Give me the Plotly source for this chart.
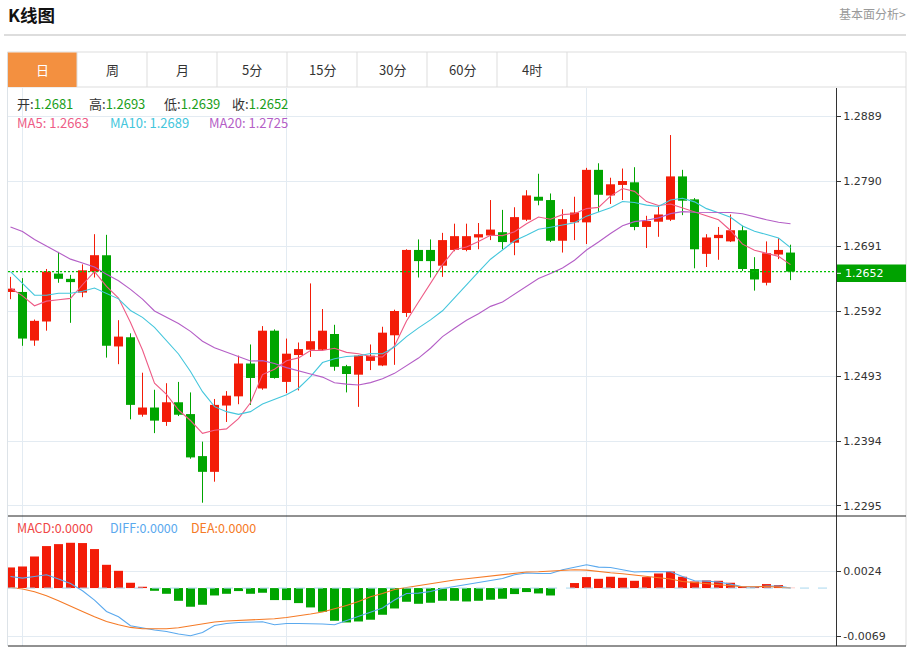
import plotly.graph_objects as go
import pandas as pd

W, H = 911, 652
CJK = "Noto Sans CJK SC"
NUMF = "DejaVu Sans"

# ---------------- data ----------------
opens = [1.2621, 1.2621, 1.2547, 1.2576, 1.2649, 1.2641, 1.2620, 1.2652, 1.2677, 1.2538,
         1.2552, 1.2434, 1.2445, 1.2423, 1.2453, 1.2435, 1.2371, 1.2347, 1.2448, 1.2462,
         1.2512, 1.2474, 1.2562, 1.2484, 1.2525, 1.2533, 1.2533, 1.2557, 1.2508, 1.2495,
         1.2516, 1.2509, 1.2555, 1.2589, 1.2685, 1.2685, 1.2661, 1.2685, 1.2685, 1.2704,
         1.2707, 1.2712, 1.2696, 1.2731, 1.2766, 1.2761, 1.2699, 1.2727, 1.2727, 1.2807,
         1.2768, 1.2784, 1.2788, 1.2720, 1.2728, 1.2731, 1.2797, 1.2762, 1.2679, 1.2703,
         1.2698, 1.2715, 1.2656, 1.2635, 1.2678, 1.2681]
highs = [1.2644, 1.2642, 1.2579, 1.2656, 1.2682, 1.2647, 1.2663, 1.2709, 1.2708, 1.2578,
         1.2558, 1.2498, 1.2472, 1.2482, 1.2484, 1.2468, 1.2393, 1.2458, 1.2470, 1.2524,
         1.2541, 1.2569, 1.2564, 1.2550, 1.2544, 1.2634, 1.2595, 1.2571, 1.2510, 1.2525,
         1.2541, 1.2568, 1.2594, 1.2686, 1.2701, 1.2701, 1.2711, 1.2725, 1.2725, 1.2726,
         1.2761, 1.2746, 1.2750, 1.2776, 1.2801, 1.2771, 1.2747, 1.2766, 1.2810, 1.2817,
         1.2795, 1.2809, 1.2811, 1.2737, 1.2751, 1.2860, 1.2807, 1.2764, 1.2709, 1.2720,
         1.2739, 1.2722, 1.2674, 1.2698, 1.2703, 1.2693]
lows = [1.2610, 1.2539, 1.2539, 1.2562, 1.2635, 1.2574, 1.2613, 1.2643, 1.2521, 1.2511,
        1.2427, 1.2431, 1.2406, 1.2417, 1.2432, 1.2367, 1.2300, 1.2332, 1.2423, 1.2450,
        1.2449, 1.2472, 1.2489, 1.2467, 1.2471, 1.2522, 1.2532, 1.2501, 1.2468, 1.2446,
        1.2502, 1.2508, 1.2510, 1.2583, 1.2643, 1.2643, 1.2644, 1.2683, 1.2683, 1.2686,
        1.2700, 1.2686, 1.2677, 1.2729, 1.2753, 1.2697, 1.2681, 1.2700, 1.2694, 1.2743,
        1.2755, 1.2761, 1.2715, 1.2688, 1.2705, 1.2729, 1.2738, 1.2657, 1.2659, 1.2670,
        1.2697, 1.2653, 1.2623, 1.2631, 1.2671, 1.2639]
closes = [1.2626, 1.2550, 1.2577, 1.2652, 1.2641, 1.2636, 1.2654, 1.2677, 1.2539, 1.2553,
          1.2449, 1.2445, 1.2425, 1.2453, 1.2434, 1.2369, 1.2347, 1.2449, 1.2463, 1.2512,
          1.2490, 1.2562, 1.2490, 1.2527, 1.2534, 1.2546, 1.2562, 1.2507, 1.2496, 1.2524,
          1.2524, 1.2559, 1.2592, 1.2685, 1.2668, 1.2668, 1.2700, 1.2706, 1.2706, 1.2709,
          1.2716, 1.2697, 1.2735, 1.2768, 1.2760, 1.2699, 1.2732, 1.2742, 1.2807, 1.2769,
          1.2785, 1.2790, 1.2720, 1.2729, 1.2739, 1.2797, 1.2760, 1.2686, 1.2704, 1.2708,
          1.2715, 1.2656, 1.2640, 1.2680, 1.2685, 1.2652]

# moving-average values at the start of the window (their history lies left of the view)
ma5_lead = [1.2627, 1.2615, 1.2600, 1.2607]
ma10_lead = [1.2652, 1.2634, 1.2616, 1.2616, 1.2619, 1.2619, 1.2622, 1.2627, 1.2619]
ma20_lead = [1.2720, 1.2713, 1.2701, 1.2691, 1.2681, 1.2671, 1.2665, 1.2659, 1.2648, 1.2638,
             1.2625, 1.2610, 1.2592, 1.2582, 1.2573, 1.2561, 1.2546, 1.2536, 1.2529]

macd_hist = [0.00295, 0.00309, 0.00452, 0.00601, 0.00629, 0.00648, 0.00644, 0.00558, 0.00333, 0.00247,
             0.00076, 0.00019, -0.00039, -0.00082, -0.00182, -0.00267, -0.00239, -0.00106, -0.00082, -0.00043,
             -0.00082, -0.00067, -0.00172, -0.00172, -0.00215, -0.00277, -0.00339, -0.00468, -0.00492, -0.00478,
             -0.00453, -0.00382, -0.00292, -0.00196, -0.00225, -0.00210, -0.00182, -0.00182, -0.00192, -0.00182,
             -0.00167, -0.00153, -0.00086, -0.00057, -0.00077, -0.00106, 0.00000, 0.00072, 0.00157, 0.00133,
             0.00162, 0.00147, 0.00104, 0.00157, 0.00209, 0.00237, 0.00162, 0.00094, 0.00109, 0.00104,
             0.00076, 0.00019, 0.00014, 0.00057, 0.00043, 0.00003]
diff = [0.00166, 0.00143, 0.00166, 0.00190, 0.00129, 0.00066, -0.00039, -0.00172, -0.00335, -0.00410,
        -0.00539, -0.00572, -0.00601, -0.00621, -0.00658, -0.00682, -0.00635, -0.00535, -0.00506, -0.00492,
        -0.00492, -0.00482, -0.00525, -0.00506, -0.00506, -0.00506, -0.00515, -0.00525, -0.00468, -0.00410,
        -0.00349, -0.00286, -0.00172, -0.00077, -0.00072, -0.00049, -0.00006, 0.00023, 0.00047, 0.00076,
        0.00104, 0.00137, 0.00190, 0.00215, 0.00209, 0.00209, 0.00262, 0.00295, 0.00333, 0.00300,
        0.00295, 0.00262, 0.00229, 0.00237, 0.00237, 0.00233, 0.00166, 0.00104, 0.00100, 0.00086,
        0.00057, 0.00019, 0.00014, 0.00029, 0.00029, 0.00000]
dea = [0.00009, -0.00014, -0.00053, -0.00110, -0.00182, -0.00253, -0.00335, -0.00410, -0.00478, -0.00525,
       -0.00563, -0.00582, -0.00586, -0.00582, -0.00568, -0.00543, -0.00515, -0.00486, -0.00472, -0.00463,
       -0.00458, -0.00449, -0.00439, -0.00420, -0.00400, -0.00372, -0.00343, -0.00300, -0.00249, -0.00192,
       -0.00124, -0.00077, -0.00020, 0.00009, 0.00037, 0.00066, 0.00090, 0.00116, 0.00133, 0.00152,
       0.00172, 0.00190, 0.00219, 0.00229, 0.00233, 0.00243, 0.00257, 0.00262, 0.00257, 0.00233,
       0.00219, 0.00204, 0.00186, 0.00172, 0.00147, 0.00129, 0.00094, 0.00080, 0.00066, 0.00047,
       0.00033, 0.00019, 0.00019, 0.00023, 0.00014, 0.00000]

price_ticks = [1.2295, 1.2394, 1.2493, 1.2592, 1.2691, 1.2790, 1.2889]
macd_ticks = [-0.0069, 0.0024]
month_starts = [1, 23, 48]
tabs = ["日", "周", "月", "5分", "15分", "30分", "60分", "4时"]

# ---------------- derived ----------------
n = len(closes)
xs = list(range(n))
cs = pd.Series(closes)
def ma(lead, k):
    rest = cs.rolling(k).mean().tolist()[len(lead):]
    return lead + rest
ma5 = ma(ma5_lead, 5)
ma10 = ma(ma10_lead, 10)
ma20 = ma(ma20_lead, 20)

RED = "#f31c08"
GREEN = "#00a500"
up = [c >= o for o, c in zip(opens, closes)]
body_base = [min(o, c) for o, c in zip(opens, closes)]
body_len = [max(abs(c - o), 0.00009) for o, c in zip(opens, closes)]
body_col = [RED if u else GREEN for u in up]

def wicks(flag):
    wx, wy = [], []
    for i in xs:
        if up[i] == flag:
            wx += [i, i, None]
            wy += [lows[i], highs[i], None]
    return wx, wy

def px(xp):
    return xp / W
def py(yp):
    return 1 - yp / H

fig = go.Figure()
for flag, col in ((True, RED), (False, GREEN)):
    wx, wy = wicks(flag)
    fig.add_trace(go.Scatter(x=wx, y=wy, mode="lines", line=dict(color=col, width=1),
                             hoverinfo="skip", showlegend=False, xaxis="x", yaxis="y"))
fig.add_trace(go.Bar(x=xs, y=body_len, base=body_base, width=0.75,
                     marker=dict(color=body_col, line=dict(width=0)),
                     showlegend=False, xaxis="x", yaxis="y"))
for vals, col in ((ma5, "#ee5c86"), (ma10, "#44c6dc"), (ma20, "#b45ec6")):
    fig.add_trace(go.Scatter(x=xs, y=vals, mode="lines", line=dict(color=col, width=1.1),
                             showlegend=False, xaxis="x", yaxis="y"))

hist_col = [RED if v >= 0 else GREEN for v in macd_hist]
fig.add_trace(go.Bar(x=xs, y=macd_hist, width=0.75, marker=dict(color=hist_col, line=dict(width=0)),
                     showlegend=False, xaxis="x2", yaxis="y2"))
fig.add_trace(go.Scatter(x=xs, y=diff, mode="lines", line=dict(color="#5aa9ee", width=1.1),
                         showlegend=False, xaxis="x2", yaxis="y2"))
fig.add_trace(go.Scatter(x=xs, y=dea, mode="lines", line=dict(color="#f57a26", width=1.1),
                         showlegend=False, xaxis="x2", yaxis="y2"))

GRID = "#e3ebf2"
xdom = [px(8), px(836)]
xr = [-0.208, 68.79]
common_x = dict(domain=xdom, range=xr, tickvals=month_starts, showticklabels=False, ticks="",
                showgrid=True, gridcolor=GRID, gridwidth=1, zeroline=False, showline=False,
                fixedrange=True)
fig.update_layout(
    xaxis=dict(anchor="y", **common_x),
    xaxis2=dict(anchor="y2", matches="x", **common_x),
    yaxis=dict(domain=[py(516), py(88)], range=[1.227976, 1.293165], side="right", anchor="x",
               tickvals=price_ticks, ticktext=[f"{v:.4f}" for v in price_ticks],
               showgrid=True, gridcolor=GRID, zeroline=False, showline=True, linecolor="#333",
               linewidth=1, ticks="outside", ticklen=4, tickcolor="#333",
               tickfont=dict(family=NUMF, size=11, color="#333")),
    yaxis2=dict(domain=[py(646), py(516)], range=[-0.008288, 0.010312], side="right", anchor="x2",
                tickvals=macd_ticks, ticktext=[f"{v:.4f}" for v in macd_ticks],
                showgrid=True, gridcolor=GRID, zeroline=False, showline=True, linecolor="#333",
                linewidth=1, ticks="outside", ticklen=4, tickcolor="#333",
                tickfont=dict(family=NUMF, size=11, color="#333")),
    barmode="overlay",
    width=W, height=H, autosize=False,
    margin=dict(l=0, r=0, t=0, b=0),
    paper_bgcolor="white", plot_bgcolor="white",
    showlegend=False,
)

shapes = []
def pline(x0, y0, x1, y1, color, width=1, dash="solid"):
    shapes.append(dict(type="line", xref="paper", yref="paper", x0=px(x0), y0=py(y0),
                       x1=px(x1), y1=py(y1), line=dict(color=color, width=width, dash=dash)))
def prect(x0, y0, x1, y1, fill, line="rgba(0,0,0,0)", lw=0):
    shapes.append(dict(type="rect", xref="paper", yref="paper", x0=px(x0), y0=py(y0),
                       x1=px(x1), y1=py(y1), fillcolor=fill, line=dict(color=line, width=lw)))

pline(4, 35, 906, 35, "#d2d2d2", 1.5)
prect(7.5, 52, 906, 87, "rgba(0,0,0,0)", "#dddddd", 1)
prect(8, 52.5, 77, 87, "#f39040")
for k in range(1, len(tabs) + 1):
    pline(77 + 70 * (k - 1), 52, 77 + 70 * (k - 1), 87, "#dddddd", 1)
pline(7.5, 87, 7.5, 646, "#dde3e8", 1)
pline(906, 87, 906, 646, "#dddddd", 1)
pline(8, 516, 906, 516, "#222", 1)
pline(8, 646, 906, 646, "#222", 1)
# last-price dotted line and tag
shapes.append(dict(type="line", xref="paper", yref="y", x0=px(8), x1=px(836),
                   y0=closes[-1], y1=closes[-1], line=dict(color="#00c000", width=1.3, dash="2px,2px")))
prect(837, 264.5, 906, 282, "#00a200")
pline(837, 273.3, 841, 273.3, "white", 1)
# MACD zero line
shapes.append(dict(type="line", xref="paper", yref="y2", x0=px(8), x1=px(836), y0=0, y1=0,
                   line=dict(color="#a9d7ee", width=1, dash="dash")))

anns = []
def ann(text, x, y, size=13, color="#333", xanchor="left", family=CJK):
    anns.append(dict(text=text, x=px(x), y=py(y), xref="paper", yref="paper", xanchor=xanchor,
                     yanchor="middle", showarrow=False, font=dict(family=family, size=size, color=color),
                     borderpad=0))

ann("<b>K线图</b>", 7, 15, size=17.5, color="#111")
ann("基本面分析>", 907, 14, size=12, color="#999", xanchor="right")
for k, t in enumerate(tabs):
    ann(t, 42 + 70 * k, 69.5, size=13, color="white" if k == 0 else "#333", xanchor="center")

G = "#1a9e1a"
info = [("开", opens[-1], 16), ("高", highs[-1], 88), ("低", lows[-1], 163), ("收", closes[-1], 231)]
for lab, v, xx in info:
    ann(f"{lab}:<span style='color:{G}'>{v:.4f}</span>", xx, 104, size=13)
ann(f"MA5: {ma5[-1]:.4f}", 16, 122, size=13, color="#ee5c86")
ann(f"MA10: {ma10[-1]:.4f}", 109, 122, size=13, color="#44c6dc")
ann(f"MA20: {ma20[-1]:.4f}", 208, 122, size=13, color="#b45ec6")
ann(f"MACD:{abs(macd_hist[-1]):.4f}", 16, 527, size=12.5, color="#f04646")
ann(f"DIFF:{abs(diff[-1]):.4f}", 109, 527, size=12.5, color="#5aa9ee")
ann(f"DEA:{abs(dea[-1]):.4f}", 190, 527, size=12.5, color="#f57a26")
ann(f"{closes[-1]:.4f}", 844, 273.5, size=11, color="white", family=NUMF)

fig.update_layout(shapes=shapes, annotations=anns)

fig.write_html("out.html", include_plotlyjs=True, full_html=True,
               config={"displayModeBar": False, "staticPlot": True},
               post_script="document.body.style.margin='0';document.body.style.overflow='hidden';")
